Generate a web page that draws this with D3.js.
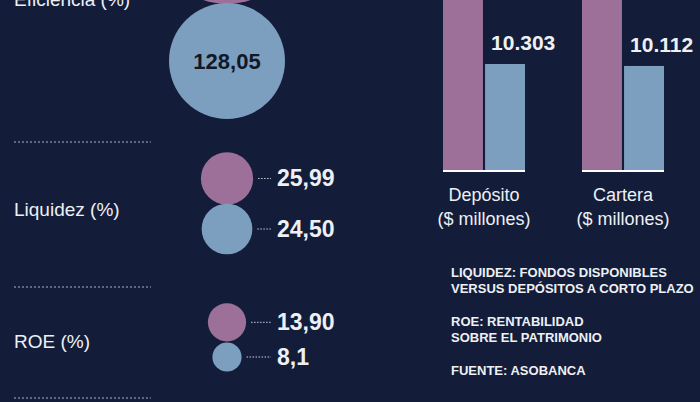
<!DOCTYPE html>
<html><head><meta charset="utf-8">
<script src="https://cdn.jsdelivr.net/npm/d3@7.9.0/dist/d3.min.js"></script>
<style>
body{margin:0;background:#131d3a;}
svg{display:block;}
text{font-family:"Liberation Sans Narrow","Liberation Sans",Arial,sans-serif;}
</style></head>
<body>
<svg id="chart" width="700" height="402"></svg>
<script>
// indicators (circles): pink = first series, blue = second series
const indicators = ['Eficiencia (%)', 'Liquidez (%)', 'ROE (%)'];
const pinkValues = [200, 25.99, 13.90];   // eficiencia pink is cut off in the picture, estimated
const blueValues = [128.05, 24.50, 8.1];
const pinkLabels = ['', '25,99', '13,90'];
const blueLabels = ['128,05', '24,50', '8,1'];

// bars
const barCategories = ['Depósito', 'Cartera'];
const barPink = [18500, 18000];           // off the top of the picture, estimated
const barBlue = [10303, 10112];
const barBlueLabels = ['10.303', '10.112'];

const notes = [
  ['LIQUIDEZ: FONDOS DISPONIBLES', 'VERSUS DEPÓSITOS A CORTO PLAZO'],
  ['ROE: RENTABILIDAD', 'SOBRE EL PATRIMONIO'],
  ['FUENTE: ASOBANCA']
];

const PINK = '#9c7099', BLUE = '#7d9fbf', TXT = '#eef0f4';
const svg = d3.select('#chart');

// ---- circles ----
const r = d3.scaleSqrt().domain([0, 128.05]).range([0, 58]);
const cx = 227;
const blueCY = [61, 229, 357];      // centre of blue circle of each pair
const labelY = [6, 216, 348];
const sepY = [142, 287, 398];

indicators.forEach((name, i) => {
  const rb = r(blueValues[i]), rp = r(pinkValues[i]);
  const by = blueCY[i];
  const py = by - rb - rp + (i === 2 ? -1 : 1);
  svg.append('circle').attr('cx', cx).attr('cy', py).attr('r', rp).attr('fill', PINK);
  svg.append('circle').attr('cx', cx).attr('cy', by).attr('r', rb).attr('fill', BLUE);

  svg.append('text').attr('x', 14).attr('y', labelY[i])
    .attr('fill', TXT).attr('font-size', 19)
    .attr('font-family', 'Liberation Sans, Arial, sans-serif')
    .text(name);

  svg.append('line').attr('x1', 14).attr('x2', 151).attr('y1', sepY[i]).attr('y2', sepY[i])
    .attr('stroke', '#aab3c8').attr('stroke-width', 1).attr('stroke-dasharray', '2,2');

  if (i === 0) {
    svg.append('text').attr('x', cx).attr('y', by + 8).attr('text-anchor', 'middle')
      .attr('font-size', 22).attr('font-weight', 'bold').attr('fill', '#111827')
      .text(blueLabels[i]);
  } else {
    [[py, rp, pinkLabels[i]], [by, rb, blueLabels[i]]].forEach(([y, rr, lab]) => {
      svg.append('line').attr('x1', cx + rr + 5).attr('x2', 271).attr('y1', y).attr('y2', y)
        .attr('stroke', '#c9cfdc').attr('stroke-dasharray', '1.5,1.5');
      svg.append('text').attr('x', 277).attr('y', y + 8).attr('fill', TXT)
        .attr('font-size', 23).attr('font-weight', 'bold').text(lab);
    });
  }
});

// ---- bars ----
const base = 170;
const y = d3.scaleLinear().domain([0, 10303]).range([base, 64]);
const x0 = d3.scaleBand().domain(barCategories).range([443, 664]).paddingInner(0.41).paddingOuter(0);
const x1 = d3.scaleBand().domain(['p', 'b']).range([0, x0.bandwidth()]).paddingInner(0.05);

barCategories.forEach((c, i) => {
  const g = svg.append('g').attr('transform', `translate(${x0(c)},0)`);
  g.append('rect').attr('x', x1('p')).attr('y', y(barPink[i])).attr('width', x1.bandwidth())
    .attr('height', base - y(barPink[i])).attr('fill', PINK);
  g.append('rect').attr('x', x1('b')).attr('y', y(barBlue[i])).attr('width', x1.bandwidth())
    .attr('height', base - y(barBlue[i])).attr('fill', BLUE);
  g.append('line').attr('x1', 0).attr('x2', x0.bandwidth()).attr('y1', base + 1).attr('y2', base + 1)
    .attr('stroke', '#ffffff').attr('stroke-width', 2);
  g.append('text').attr('x', x1('b') + 6).attr('y', y(barBlue[i]) - 14)
    .attr('fill', TXT).attr('font-size', 21).attr('font-weight', 'bold').text(barBlueLabels[i]);
  const cxm = x0.bandwidth() / 2;
  [c, '($ millones)'].forEach((t, k) => {
    g.append('text').attr('x', cxm).attr('y', 201 + k * 24).attr('text-anchor', 'middle')
      .attr('fill', TXT).attr('font-size', 18)
      .attr('font-family', 'Liberation Sans, Arial, sans-serif').text(t);
  });
});

// ---- notes ----
const noteY = [277, 326, 375];
notes.forEach((lines, i) => {
  lines.forEach((t, k) => {
    svg.append('text').attr('x', 451).attr('y', noteY[i] + k * 16)
      .attr('fill', TXT).attr('font-size', 13).attr('font-weight', 'bold')
      .attr('font-family', 'Liberation Sans, Arial, sans-serif').text(t);
  });
});
</script>
</body></html>
